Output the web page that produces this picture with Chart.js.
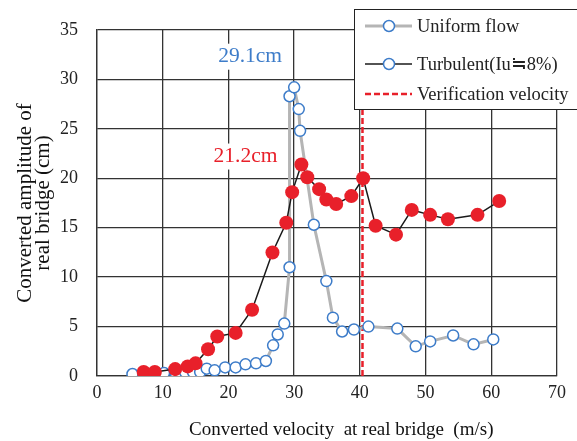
<!DOCTYPE html>
<html lang="en">
<head>
  <meta charset="UTF-8">
  <title>amplitude chart</title>
  <script src="https://cdn.jsdelivr.net/npm/chart.js"></script>
  <style>
    html, body { margin: 0; padding: 0; background: #fff; }
    .chart-box { position: relative; width: 577px; height: 441px; }
    /* legend box sits over the top right of the plot */
    .legend { position: absolute; left: 354px; top: 9px; width: 240px; height: 101px;
      border: 1px solid #222; background: #fff; box-sizing: border-box;
      font-family: "Liberation Serif", serif; font-size: 18.5px; color: #222; }
    .legend ul { margin: 0; padding: 0; list-style: none; }
    .legend li { position: absolute; left: 0; height: 24px; line-height: 24px; white-space: nowrap; }
    .legend canvas { vertical-align: middle; margin: -3px 5px 0 10px; }
  </style>
</head>
<body>
  <div class="chart-box">
    <canvas id="chart_amp" width="577" height="441"></canvas>
    <div class="legend" id="js-chart_amp-legend"></div>
  </div>

  <script>
    // ---- data
    var uniformX = [5.4, 7.7, 8.9, 10.2, 12.0, 13.4, 14.6, 15.7, 16.7, 17.9, 19.5, 21.1, 22.6, 24.2, 25.7, 26.8, 27.5, 28.5,
                    29.3, 29.3, 30.0, 30.7, 30.9, 33.0, 34.9, 35.9, 37.3, 39.1, 41.3, 45.7, 48.5, 50.7, 54.2, 57.3, 60.3];
    var uniformY = [0.2, 0.06, 0.26, 0.3, 0.26, 0.4, 0.4, 0.4, 0.74, 0.57, 0.87, 0.87, 1.18, 1.28, 1.52, 3.1, 4.2, 5.3,
                    11.0, 28.3, 29.2, 27.0, 24.8, 15.3, 9.6, 5.9, 4.5, 4.7, 5.0, 4.8, 3.0, 3.5, 4.1, 3.2, 3.7];
    var turbX = [7.1, 8.8, 11.9, 13.8, 15.0, 16.9, 18.3, 21.1, 23.6, 26.7, 28.8, 29.7, 31.1, 32.0, 33.8, 34.9, 36.4,
                 38.7, 40.5, 42.4, 45.5, 47.9, 50.7, 53.4, 57.9, 61.2];
    var turbY = [0.4, 0.4, 0.7, 0.97, 1.28, 2.7, 4.0, 4.36, 6.7, 12.5, 15.5, 18.6, 21.4, 20.1, 18.9, 17.85, 17.4,
                 18.2, 20.0, 15.2, 14.3, 16.8, 16.3, 15.85, 16.3, 17.7];
    var verifyX = 40.4;
    var xTicks = [0, 10, 20, 30, 40, 50, 60, 70];
    var yTicks = [0, 5, 10, 15, 20, 25, 30, 35];
    var peakNotes = [
      { text: '29.1cm', x: 23.3, y: 32.3, color: '#3d7cc9' },
      { text: '21.2cm', x: 22.6, y: 22.2, color: '#e8202a' }
    ];

    function pts(xs, ys) {
      return xs.map(function (x, i) { return { x: x, y: ys[i] }; });
    }

    var serif = '"Liberation Serif", "Times New Roman", serif';

    // labels with white box, drawn over grid but under the marks
    var notePlugin = {
      id: 'peakNotes',
      beforeDatasetsDraw: function (chart) {
        var c = chart.ctx;
        c.save();
        c.font = '21.5px ' + serif;
        c.textAlign = 'center';
        c.textBaseline = 'middle';
        peakNotes.forEach(function (n) {
          var px = chart.scales.x.getPixelForValue(n.x);
          var py = chart.scales.y.getPixelForValue(n.y);
          var w = c.measureText(n.text).width;
          c.fillStyle = '#fff';
          c.fillRect(px - w / 2 - 3, py - 13, w + 6, 26);
          c.fillStyle = n.color;
          c.fillText(n.text, px, py);
        });
        c.restore();
      }
    };

    var ctx = document.getElementById('chart_amp').getContext('2d');
    var chart = new Chart(ctx, {
      type: 'scatter',
      data: {
        datasets: [
          {
            label: 'Uniform flow',
            data: pts(uniformX, uniformY),
            showLine: true,
            borderColor: '#b5b5b5',
            borderWidth: 3,
            pointRadius: 5.5,
            pointBorderWidth: 1.5,
            pointBorderColor: '#3d7cc9',
            pointBackgroundColor: '#fff',
            order: 1,
            legendMarker: '#3d7cc9'
          },
          {
            label: 'Turbulent(Iu\u22528%)',
            data: pts(turbX, turbY),
            showLine: true,
            borderColor: '#1a1a1a',
            borderWidth: 1.5,
            pointRadius: 7,
            pointBorderWidth: 0,
            pointBackgroundColor: '#e8202a',
            pointBorderColor: '#e8202a',
            order: 0,
            legendMarker: '#3d7cc9'
          },
          {
            label: 'Verification velocity',
            data: [{ x: verifyX, y: 0 }, { x: verifyX, y: 35 }],
            showLine: true,
            borderColor: '#e8202a',
            borderWidth: 2.5,
            borderDash: [6, 3],
            pointRadius: 0,
            order: 2
          }
        ]
      },
      options: {
        responsive: false,
        animation: false,
        layout: { padding: { left: 0, right: 20, top: 30, bottom: 0 } },
        plugins: {
          legend: { display: false },
          tooltip: { enabled: false }
        },
        scales: {
          x: {
            type: 'linear', min: 0, max: 70,
            afterBuildTicks: function (axis) { axis.ticks = xTicks.map(function (v) { return { value: v }; }); },
            afterFit: function (axis) { axis.height = 65; },
            grid: { color: '#333', lineWidth: 1.3, drawTicks: false },
            border: { color: '#333', width: 1.3 },
            ticks: { padding: 6, color: '#222', font: { family: serif, size: 18 } },
            // leading spaces push the title a little right of centre, as in the original
            title: { display: true, text: '      Converted velocity  at real bridge  (m/s)', color: '#111',
                     font: { family: serif, size: 19 }, padding: { top: 0, bottom: 0 } }
          },
          y: {
            type: 'linear', min: 0, max: 35,
            afterBuildTicks: function (axis) { axis.ticks = yTicks.map(function (v) { return { value: v }; }); },
            afterFit: function (axis) { axis.width = 97; },
            grid: { color: '#333', lineWidth: 1.3, drawTicks: false },
            border: { color: '#333', width: 1.3 },
            ticks: { padding: 19, color: '#222', font: { family: serif, size: 18 } },
            title: { display: true, text: ['Converted amplitude of', 'real bridge (cm)'], color: '#111',
                     font: { family: serif, size: 21, lineHeight: 0.84 }, padding: { top: 17, bottom: 0 } }
          }
        }
      },
      plugins: [notePlugin]
    });

    // ---- html legend built from the datasets
    var rowTop = [4, 42, 72];
    var ul = document.createElement('ul');
    chart.data.datasets.forEach(function (ds, i) {
      var li = document.createElement('li');
      li.style.top = rowTop[i] + 'px';
      var sw = document.createElement('canvas');
      sw.width = 47; sw.height = 16;
      var s = sw.getContext('2d');
      s.strokeStyle = ds.borderColor;
      s.lineWidth = ds.borderWidth;
      if (ds.borderDash) s.setLineDash(ds.borderDash);
      s.beginPath(); s.moveTo(0, 8); s.lineTo(47, 8); s.stroke();
      if (ds.legendMarker) {
        s.setLineDash([]);
        s.fillStyle = '#fff';
        s.strokeStyle = ds.legendMarker;
        s.lineWidth = 1.5;
        s.beginPath(); s.arc(24, 8, 5.5, 0, Math.PI * 2); s.fill(); s.stroke();
      }
      li.appendChild(sw);
      li.appendChild(document.createTextNode(ds.label));
      ul.appendChild(li);
    });
    document.getElementById('js-chart_amp-legend').appendChild(ul);
  </script>
</body>
</html>
